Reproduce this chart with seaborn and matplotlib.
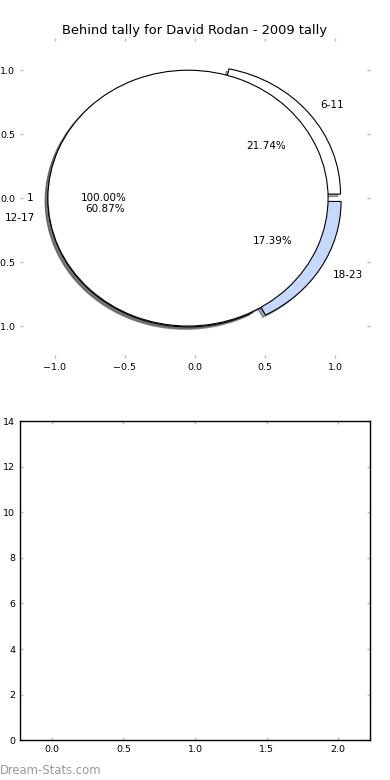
# plot.py
# Behind tally pie for David Rodan (2009) with an empty bar panel below

import matplotlib
matplotlib.use('Agg')
import matplotlib.pyplot as plt
import seaborn as sns

# Data
chart_title = 'Behind tally for David Rodan - 2009 tally'
outer_labels = ['6-11', '12-17', '18-23']   # minutes bands
outer_counts = [5, 14, 4]                    # 21.74%, 60.87%, 17.39%
outer_colors = ['white', 'white', '#c6d9fd']
inner_labels = ['1']
inner_counts = [1]                           # 100.00%
pie_ticks = [-1.0, -0.5, 0.0, 0.5, 1.0]
bar_xticks = [0.0, 0.5, 1.0, 1.5, 2.0]
bar_yticks = [0, 2, 4, 6, 8, 10, 12, 14]

# Style: white background, small grey ticks pointing in on every side
sns.set_style('white')
plt.rcParams['font.family'] = ['DejaVu Sans']
plt.rcParams.update({
    'text.color': 'black',
    'xtick.direction': 'in', 'ytick.direction': 'in',
    'xtick.top': True, 'ytick.right': True,
    'xtick.bottom': True, 'ytick.left': True,
    'xtick.color': '#bbbbbb', 'ytick.color': '#bbbbbb',
    'xtick.labelcolor': 'black', 'ytick.labelcolor': 'black',
    'xtick.major.size': 2.5, 'ytick.major.size': 2.5,
    'xtick.major.width': 1.0, 'ytick.major.width': 1.0,
    'xtick.major.pad': 3.5, 'ytick.major.pad': 3.5,
    'xtick.labelsize': 6.8, 'ytick.labelsize': 6.8,
})

fig = plt.figure(figsize=(3.9, 7.8), dpi=100) # 390x780 pixels
ax_pie = fig.add_axes([0.051, 0.541, 0.898, 0.410])
ax_bar = fig.add_axes([0.051, 0.051, 0.898, 0.409])

wedge_style = {'linewidth': 0.8, 'edgecolor': 'black'}
text_style = {'fontsize': 7.5, 'color': 'black'}
shadow_style = {'ox': -0.014, 'oy': -0.014}

# Outer pie first, then the single "1" wedge on top of it
ax_pie.pie(outer_counts, labels=outer_labels, colors=outer_colors,
           autopct='%1.2f%%', explode=[0.05] * len(outer_counts),
           shadow=shadow_style, startangle=0, wedgeprops=wedge_style, textprops=text_style)
ax_pie.pie(inner_counts, labels=inner_labels, colors=['white'],
           autopct='%1.2f%%', explode=[0.05] * len(inner_counts),
           shadow=shadow_style, startangle=0, wedgeprops=wedge_style, textprops=text_style)

ax_pie.set_aspect('auto') # the reference is stretched, not round
ax_pie.set_xlim(-1.25, 1.25)
ax_pie.set_ylim(-1.25, 1.25)
ax_pie.set_xticks(pie_ticks)
ax_pie.set_yticks(pie_ticks)
ax_pie.set_frame_on(False)
ax_pie.set_title(chart_title, fontsize=9.4, pad=3, color='black')

# Empty lower panel
ax_bar.set_xlim(-0.224, 2.224)
ax_bar.set_ylim(0, 14)
ax_bar.set_xticks(bar_xticks)
ax_bar.set_yticks(bar_yticks)
for spine in ax_bar.spines.values():
    spine.set_color('black')
    spine.set_linewidth(1.0)

# Watermark
fig.text(0.0, 0.008, 'Dream-Stats.com', color='#999999', fontsize=8.4)

fig.savefig('out.png', dpi=100)
plt.close(fig)
